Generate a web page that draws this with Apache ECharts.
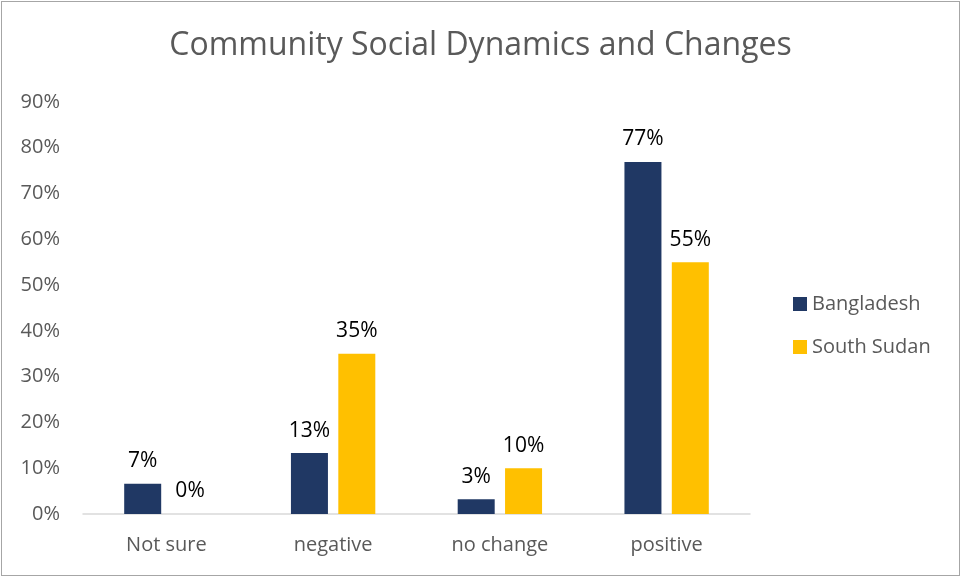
<!DOCTYPE html>
<html>
<head>
<meta charset="utf-8">
<script src="https://cdn.jsdelivr.net/npm/echarts@6/dist/echarts.min.js"></script>
<style>
  html, body { margin: 0; padding: 0; background: #fff; }
  #wrap { position: absolute; left: 1px; top: 1px; width: 957px; height: 573px; border: 1px solid #A6A6A6; }
  #chart { width: 957px; height: 573px; }
</style>
</head>
<body>
<div id="wrap"><div id="chart"></div></div>
<script>
// Share of respondents by perceived change in community social dynamics
const categories = ['Not sure', 'negative', 'no change', 'positive'];
const bangladesh = [6.6, 13.3, 3.2, 76.9];
const southSudan = [0, 35, 10, 55];
const yTicks = { min: 0, max: 90, step: 10 };

const FONT = 'Open Sans';
const chart = echarts.init(document.getElementById('chart'), null, { renderer: 'canvas' });

const labelStyle = {
  show: true,
  position: 'top',
  distance: 12,
  color: '#000',
  fontFamily: FONT,
  fontSize: 21,
  formatter: p => Math.round(p.value) + '%'
};

chart.setOption({
  animation: false,
  textStyle: { fontFamily: FONT },
  title: {
    text: 'Community Social Dynamics and Changes',
    left: 'center',
    top: 23,
    textStyle: { fontFamily: FONT, fontSize: 32, fontWeight: 'normal', color: '#595959' }
  },
  legend: {
    orient: 'vertical',
    left: 786,
    top: 287,
    itemWidth: 14,
    itemHeight: 14,
    itemGap: 23,
    icon: 'rect',
    textStyle: { fontFamily: FONT, fontSize: 20, color: '#595959' },
    data: ['Bangladesh', 'South Sudan']
  },
  grid: { left: 81, right: 209, top: 100, bottom: 61, containLabel: false },
  xAxis: {
    type: 'category',
    data: categories,
    axisLine: { lineStyle: { color: '#D9D9D9', width: 1.5 } },
    axisTick: { show: false },
    axisLabel: { color: '#595959', fontFamily: FONT, fontSize: 20, margin: 21 }
  },
  yAxis: {
    type: 'value',
    min: yTicks.min,
    max: yTicks.max,
    interval: yTicks.step,
    splitLine: { show: false },
    axisLine: { show: false },
    axisTick: { show: false },
    axisLabel: { color: '#595959', fontFamily: FONT, fontSize: 20, margin: 23, formatter: v => v + '%' }
  },
  series: [
    {
      name: 'Bangladesh',
      type: 'bar',
      data: bangladesh,
      barWidth: 37,
      barGap: '28%',
      itemStyle: { color: '#203864' },
      label: labelStyle
    },
    {
      name: 'South Sudan',
      type: 'bar',
      data: southSudan,
      barWidth: 37,
      barGap: '28%',
      itemStyle: { color: '#FFC000' },
      label: labelStyle
    }
  ]
});
</script>
</body>
</html>
